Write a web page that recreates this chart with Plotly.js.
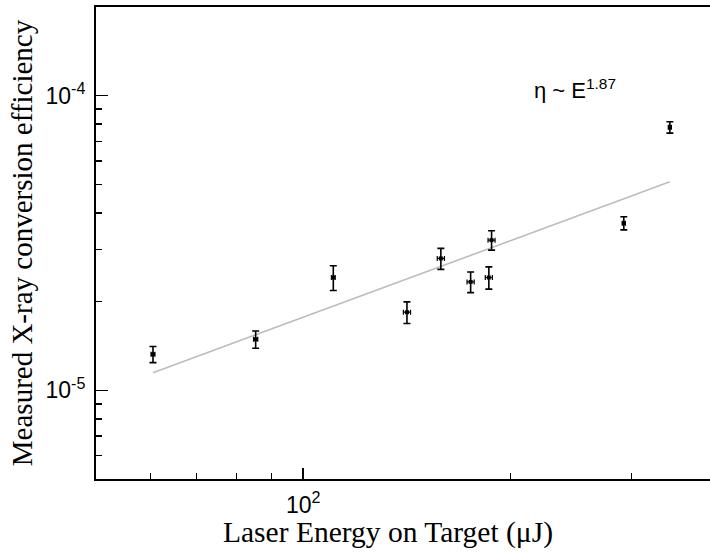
<!DOCTYPE html>
<html>
<head>
<meta charset="utf-8">
<script src="https://cdn.plot.ly/plotly-3.0.1.min.js"></script>
<style>html,body{margin:0;padding:0;background:#fff;}#chart{width:710px;height:552px;}</style>
</head>
<body>
<div id="chart"></div>
<script>
// Measured data (laser energy in uJ, efficiency)
const energy = [60.5, 85.3, 110.6, 141.5, 158.5, 175.1, 186.1, 187.8, 292.3, 341.0];
const efficiency = [1.325e-5, 1.49e-5, 2.415e-5, 1.841e-5, 2.803e-5, 2.333e-5, 2.415e-5, 3.234e-5, 3.693e-5, 7.81e-5];
const effError = [0.083e-5, 0.10e-5, 0.233e-5, 0.155e-5, 0.23e-5, 0.188e-5, 0.21e-5, 0.244e-5, 0.19e-5, 0.345e-5];
const energyError = [0.4, 0.6, 0.7, 1.7, 1.9, 2.1, 2.2, 2.2, 1.5, 1.7];

// Power-law fit line end points
const fitEnergy = [60.5, 341.0];
const fitEfficiency = [1.148e-5, 5.10e-5];

// Axis ticks
const xMajorTicks = [100];
const xMajorLabels = ['10<sup>2</sup>'];
const xMinorTicks = [60, 70, 80, 90, 200, 300];
const yMajorTicks = [1e-5, 1e-4];
const yMajorLabels = ['10<sup>-5</sup>', '10<sup>-4</sup>'];
const yMinorTicks = [6e-6, 7e-6, 8e-6, 9e-6, 2e-5, 3e-5, 4e-5, 5e-5, 6e-5, 7e-5, 8e-5, 9e-5];

const xTitle = 'Laser Energy on Target (μJ)';
const yTitle = 'Measured X-ray conversion efficiency';
const fitLabel = 'η ~ E<sup>1.87</sup>';

const traces = [
  {
    x: fitEnergy, y: fitEfficiency, mode: 'lines', type: 'scatter',
    line: {color: '#bdbdbd', width: 1.6}, hoverinfo: 'skip', showlegend: false
  },
  {
    x: energy, y: efficiency, mode: 'markers', type: 'scatter',
    marker: {symbol: 'square', size: 4, color: '#000'},
    error_y: {type: 'data', array: effError, visible: true, color: '#000', thickness: 1.6, width: 3.5},
    error_x: {type: 'data', array: energyError, visible: true, color: '#000', thickness: 1.2, width: 2.5},
    showlegend: false
  }
];

const layout = {
  width: 710, height: 552,
  margin: {l: 96, r: 0, t: 7, b: 73},
  paper_bgcolor: '#fff', plot_bgcolor: '#fff',
  showlegend: false,
  xaxis: {
    type: 'log',
    range: [Math.log10(50), Math.log10(390)],
    showgrid: false, zeroline: false,
    showline: true, linecolor: '#000', linewidth: 2, mirror: true,
    ticks: 'inside', ticklen: 11, tickwidth: 1.5, tickcolor: '#000',
    tickmode: 'array', tickvals: xMajorTicks, ticktext: xMajorLabels,
    minor: {tickmode: 'array', tickvals: xMinorTicks, ticks: 'inside', ticklen: 6, tickwidth: 1.5, tickcolor: '#000', showgrid: false},
    tickfont: {family: 'Liberation Sans, Arial, sans-serif', size: 23, color: '#000'},
    ticklabelstandoff: 4
  },
  yaxis: {
    type: 'log',
    range: [Math.log10(5e-6), Math.log10(2e-4)],
    showgrid: false, zeroline: false,
    showline: true, linecolor: '#000', linewidth: 2, mirror: false,
    ticks: 'inside', ticklen: 12, tickwidth: 1.5, tickcolor: '#000',
    tickmode: 'array', tickvals: yMajorTicks, ticktext: yMajorLabels,
    minor: {tickmode: 'array', tickvals: yMinorTicks, ticks: 'inside', ticklen: 6, tickwidth: 1.5, tickcolor: '#000', showgrid: false},
    tickfont: {family: 'Liberation Sans, Arial, sans-serif', size: 23, color: '#000'},
    ticklabelstandoff: 4,
    title: {text: yTitle, font: {family: 'Liberation Serif, Times New Roman, serif', size: 29, color: '#000'}, standoff: 4}
  },
  annotations: [
    {
      text: fitLabel, xref: 'paper', yref: 'paper', x: 0.780, y: 0.826,
      showarrow: false, xanchor: 'center', yanchor: 'middle',
      font: {family: 'Liberation Sans, Arial, sans-serif', size: 22, color: '#000'}
    },
    {
      text: xTitle, xref: 'paper', yref: 'paper', x: 0.475, y: 0, yshift: -35,
      showarrow: false, xanchor: 'center', yanchor: 'top',
      font: {family: 'Liberation Serif, Times New Roman, serif', size: 29.5, color: '#000'}
    }
  ]
};

Plotly.newPlot('chart', traces, layout, {displayModeBar: false, staticPlot: true});
</script>
</body>
</html>
